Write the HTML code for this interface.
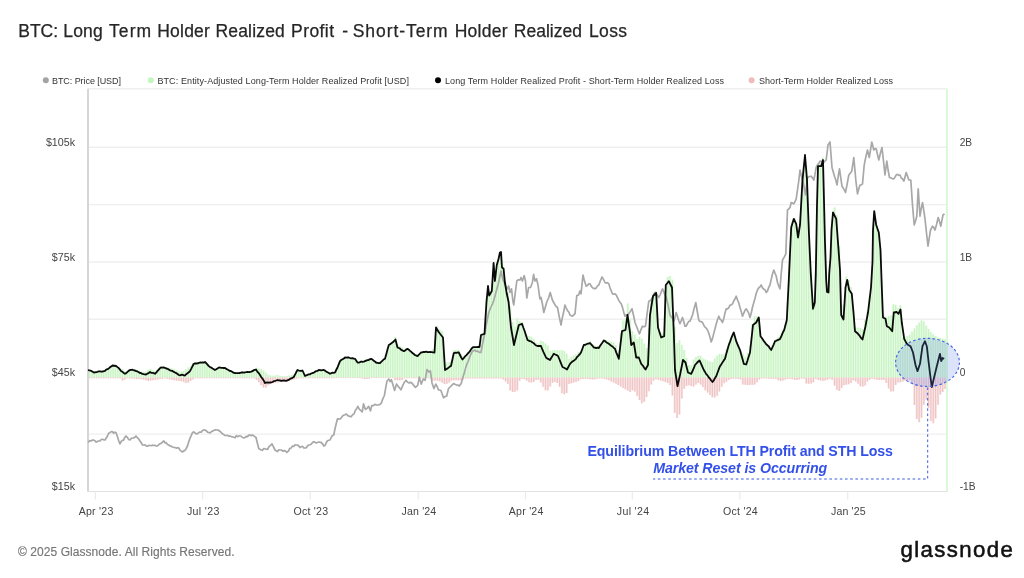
<!DOCTYPE html>
<html lang="en">
<head>
<meta charset="utf-8">
<title>BTC: Long Term Holder Realized Profit - Short-Term Holder Realized Loss</title>
<style>
html,body{margin:0;padding:0;background:#fff;}
body{width:1024px;height:578px;overflow:hidden;position:relative;font-family:"Liberation Sans",Arial,sans-serif;}
svg{position:absolute;left:0;top:0;display:block;filter:blur(0.3px);}
text{font-family:"Liberation Sans",Arial,sans-serif;}
.title{font-size:17.5px;fill:#262626;stroke:#262626;stroke-width:0.25px;}
.legend text{font-size:9px;fill:#333;}
.axis text{fill:#444;}
.xaxis text{font-size:10.6px;fill:#444;}
.ann1{font-size:14.2px;font-weight:bold;fill:#3350e8;}
.ann2{font-size:14.2px;font-weight:bold;font-style:italic;fill:#3350e8;}
.foot{font-size:12px;fill:#767676;stroke:#767676;stroke-width:0.15px;}
.logo{font-size:22.2px;fill:#111;stroke:#111;stroke-width:0.55px;letter-spacing:1.4px;}
</style>
</head>
<body>
<svg width="1024" height="578" viewBox="0 0 1024 578">
<rect width="1024" height="578" fill="#ffffff"/>
<text class="title" y="36.6"><tspan x="18.3" textLength="39.7" lengthAdjust="spacing">BTC:</tspan> <tspan x="63.3" textLength="39.4" lengthAdjust="spacing">Long</tspan> <tspan x="109.0" textLength="42.2" lengthAdjust="spacing">Term</tspan> <tspan x="157.2" textLength="52.7" lengthAdjust="spacing">Holder</tspan> <tspan x="215.5" textLength="69.3" lengthAdjust="spacing">Realized</tspan> <tspan x="291.1" textLength="42.9" lengthAdjust="spacing">Profit</tspan> <tspan x="342.3" textLength="5.9" lengthAdjust="spacing">-</tspan> <tspan x="352.7" textLength="95.0" lengthAdjust="spacing">Short-Term</tspan> <tspan x="454.7" textLength="52.8" lengthAdjust="spacing">Holder</tspan> <tspan x="513.8" textLength="68.2" lengthAdjust="spacing">Realized</tspan> <tspan x="589.0" textLength="38.0" lengthAdjust="spacing">Loss</tspan></text>

<g class="legend">
<circle cx="45.8" cy="80.3" r="3" fill="#a3a3a3"/>
<text x="52" y="83.5" textLength="69" lengthAdjust="spacing">BTC: Price [USD]</text>
<circle cx="150.8" cy="80.3" r="3" fill="#c4f5c0"/>
<text x="157.4" y="83.5" textLength="251.5" lengthAdjust="spacing">BTC: Entity-Adjusted Long-Term Holder Realized Profit [USD]</text>
<circle cx="438" cy="80.3" r="3" fill="#000"/>
<text x="445" y="83.5" textLength="279" lengthAdjust="spacing">Long Term Holder Realized Profit - Short-Term Holder Realized Loss</text>
<circle cx="751.6" cy="80.3" r="3" fill="#efbcbc"/>
<text x="759" y="83.5" textLength="134" lengthAdjust="spacing">Short-Term Holder Realized Loss</text>
</g>

<!-- plot frame -->
<g stroke="#efefef" stroke-width="1.4" fill="none">
<line x1="88" x2="947" y1="88.7" y2="88.7"/>
<line x1="88" x2="947" y1="147.2" y2="147.2"/><line x1="88" x2="947" y1="204.6" y2="204.6"/><line x1="88" x2="947" y1="262.0" y2="262.0"/><line x1="88" x2="947" y1="319.3" y2="319.3"/><line x1="88" x2="947" y1="376.7" y2="376.7"/><line x1="88" x2="947" y1="434.1" y2="434.1"/>
</g>

<!-- bars -->
<defs><path id="gb" d="M89.60 377.4V369.8M91.95 377.4V370.8M94.30 377.4V371.5M96.65 377.4V371.1M99.00 377.4V370.8M101.35 377.4V370.4M103.70 377.4V370.1M106.05 377.4V369.1M108.40 377.4V367.5M110.75 377.4V365.8M113.10 377.4V364.7M115.45 377.4V365.0M117.80 377.4V366.9M120.15 377.4V369.1M122.50 377.4V369.0M124.85 377.4V371.3M127.20 377.4V371.2M129.55 377.4V369.3M131.90 377.4V369.0M134.25 377.4V369.0M136.60 377.4V369.7M138.95 377.4V370.8M141.30 377.4V371.4M143.65 377.4V371.7M146.00 377.4V371.6M148.35 377.4V369.6M150.70 377.4V369.1M153.05 377.4V370.3M155.40 377.4V370.9M157.75 377.4V368.8M160.10 377.4V366.8M162.45 377.4V366.5M164.80 377.4V367.3M167.15 377.4V367.3M169.50 377.4V367.8M171.85 377.4V368.4M174.20 377.4V369.3M176.55 377.4V370.4M178.90 377.4V371.5M181.25 377.4V371.4M183.60 377.4V371.1M185.95 377.4V369.2M188.30 377.4V367.5M190.65 377.4V366.5M193.00 377.4V363.3M195.35 377.4V362.5M197.70 377.4V362.1M200.05 377.4V361.6M202.40 377.4V361.4M204.75 377.4V361.1M207.10 377.4V363.2M209.45 377.4V365.5M211.80 377.4V367.2M214.15 377.4V368.6M216.50 377.4V368.4M218.85 377.4V367.2M221.20 377.4V366.7M223.55 377.4V367.0M225.90 377.4V367.6M228.25 377.4V369.0M230.60 377.4V370.3M232.95 377.4V371.3M235.30 377.4V372.1M237.65 377.4V371.9M240.00 377.4V371.8M242.35 377.4V371.6M244.70 377.4V371.5M247.05 377.4V371.3M249.40 377.4V371.1M251.75 377.4V370.4M254.10 377.4V369.4M256.45 377.4V367.7M258.80 377.4V368.6M261.15 377.4V369.0M263.50 377.4V370.6M265.85 377.4V372.8M268.20 377.4V374.8M270.55 377.4V375.6M272.90 377.4V375.7M275.25 377.4V375.4M277.60 377.4V375.1M279.95 377.4V375.7M282.30 377.4V376.1M284.65 377.4V376.4M287.00 377.4V376.2M289.35 377.4V375.5M291.70 377.4V375.1M294.05 377.4V374.3M296.40 377.4V370.6M298.75 377.4V369.2M301.10 377.4V369.5M303.45 377.4V371.7M305.80 377.4V374.8M308.15 377.4V373.8M310.50 377.4V372.9M312.85 377.4V371.9M315.20 377.4V370.8M317.55 377.4V369.7M319.90 377.4V369.1M322.25 377.4V369.1M324.60 377.4V369.6M326.95 377.4V371.0M329.30 377.4V372.4M331.65 377.4V372.5M334.00 377.4V372.0M336.35 377.4V368.8M338.70 377.4V363.5M341.05 377.4V359.9M343.40 377.4V358.1M345.75 377.4V357.0M348.10 377.4V357.2M350.45 377.4V357.5M352.80 377.4V357.8M355.15 377.4V358.4M357.50 377.4V361.9M359.85 377.4V361.5M362.20 377.4V360.6M364.55 377.4V359.8M366.90 377.4V359.0M369.25 377.4V358.1M371.60 377.4V358.6M373.95 377.4V360.4M376.30 377.4V361.9M378.65 377.4V362.2M381.00 377.4V361.6M383.35 377.4V359.6M385.70 377.4V355.6M388.05 377.4V347.0M390.40 377.4V343.1M392.75 377.4V341.1M395.10 377.4V337.0M397.45 377.4V344.5M399.80 377.4V346.1M402.15 377.4V347.6M404.50 377.4V350.0M406.85 377.4V348.4M409.20 377.4V349.4M411.55 377.4V351.4M413.90 377.4V353.1M416.25 377.4V354.6M418.60 377.4V354.3M420.95 377.4V351.8M423.30 377.4V351.6M425.65 377.4V351.4M428.00 377.4V351.3M430.35 377.4V350.9M432.70 377.4V349.2M435.05 377.4V339.9M437.40 377.4V326.3M439.75 377.4V329.5M442.10 377.4V331.1M444.45 377.4V354.4M446.80 377.4V362.4M449.15 377.4V362.2M451.50 377.4V360.7M453.85 377.4V350.2M456.20 377.4V350.0M458.55 377.4V349.7M460.90 377.4V353.7M463.25 377.4V356.5M465.60 377.4V355.1M467.95 377.4V352.4M470.30 377.4V349.4M472.65 377.4V346.5M475.00 377.4V346.3M477.35 377.4V346.2M479.70 377.4V344.4M482.05 377.4V333.6M484.40 377.4V332.8M486.75 377.4V298.3M489.10 377.4V293.4M491.45 377.4V290.6M493.80 377.4V264.8M496.15 377.4V269.2M498.50 377.4V258.1M500.85 377.4V251.1M503.20 377.4V266.4M505.55 377.4V282.4M507.90 377.4V292.4M510.25 377.4V306.4M512.60 377.4V322.2M514.95 377.4V326.7M517.30 377.4V318.0M519.65 377.4V321.3M522.00 377.4V322.2M524.35 377.4V328.8M526.70 377.4V334.6M529.05 377.4V336.0M531.40 377.4V336.8M533.75 377.4V338.9M536.10 377.4V342.4M538.45 377.4V343.6M540.80 377.4V340.8M543.15 377.4V341.6M545.50 377.4V343.4M547.85 377.4V345.6M550.20 377.4V350.7M552.55 377.4V350.5M554.90 377.4V349.9M557.25 377.4V350.1M559.60 377.4V350.5M561.95 377.4V349.9M564.30 377.4V351.1M566.65 377.4V353.7M569.00 377.4V359.1M571.35 377.4V356.8M573.70 377.4V355.6M576.05 377.4V354.2M578.40 377.4V352.2M580.75 377.4V351.0M583.10 377.4V345.2M585.45 377.4V343.1M587.80 377.4V342.2M590.15 377.4V341.3M592.50 377.4V343.9M594.85 377.4V345.8M597.20 377.4V346.4M599.55 377.4V345.7M601.90 377.4V342.1M604.25 377.4V339.4M606.60 377.4V340.3M608.95 377.4V341.0M611.30 377.4V341.8M613.65 377.4V342.5M616.00 377.4V345.1M618.35 377.4V350.0M620.70 377.4V333.2M623.05 377.4V320.4M625.40 377.4V318.2M627.75 377.4V303.5M630.10 377.4V318.8M632.45 377.4V330.9M634.80 377.4V334.7M637.15 377.4V338.9M639.50 377.4V336.8M641.85 377.4V338.7M644.20 377.4V343.4M646.55 377.4V348.1M648.90 377.4V328.6M651.25 377.4V300.0M653.60 377.4V292.5M655.95 377.4V291.5M658.30 377.4V326.0M660.65 377.4V332.6M663.00 377.4V333.0M665.35 377.4V294.2M667.70 377.4V277.0M670.05 377.4V276.1M672.40 377.4V279.8M674.75 377.4V326.9M677.10 377.4V343.0M679.45 377.4V340.2M681.80 377.4V344.9M684.15 377.4V349.9M686.50 377.4V357.9M688.85 377.4V364.9M691.20 377.4V365.3M693.55 377.4V359.4M695.90 377.4V356.9M698.25 377.4V356.1M700.60 377.4V355.7M702.95 377.4V358.5M705.30 377.4V359.5M707.65 377.4V360.6M710.00 377.4V361.4M712.35 377.4V361.9M714.70 377.4V358.6M717.05 377.4V355.7M719.40 377.4V353.9M721.75 377.4V354.3M724.10 377.4V354.2M726.45 377.4V349.1M728.80 377.4V342.4M731.15 377.4V337.5M733.50 377.4V331.7M735.85 377.4V338.5M738.20 377.4V344.3M740.55 377.4V349.9M742.90 377.4V353.4M745.25 377.4V356.8M747.60 377.4V352.7M749.95 377.4V345.1M752.30 377.4V324.0M754.65 377.4V316.5M757.00 377.4V316.2M759.35 377.4V321.9M761.70 377.4V337.0M764.05 377.4V340.1M766.40 377.4V343.0M768.75 377.4V345.7M771.10 377.4V348.5M773.45 377.4V343.6M775.80 377.4V339.5M778.15 377.4V336.9M780.50 377.4V334.4M782.85 377.4V329.8M785.20 377.4V324.1M787.55 377.4V302.4M789.90 377.4V254.5M792.25 377.4V222.1M794.60 377.4V217.9M796.95 377.4V226.7M799.30 377.4V227.3M801.65 377.4V194.3M804.00 377.4V163.6M806.35 377.4V165.8M808.70 377.4V222.1M811.05 377.4V272.6M813.40 377.4V302.4M815.75 377.4V272.5M818.10 377.4V163.8M820.45 377.4V163.3M822.80 377.4V157.4M825.15 377.4V243.9M827.50 377.4V289.7M829.85 377.4V264.5M832.20 377.4V219.5M834.55 377.4V207.4M836.90 377.4V215.2M839.25 377.4V246.0M841.60 377.4V305.1M843.95 377.4V304.5M846.30 377.4V276.6M848.65 377.4V280.1M851.00 377.4V286.9M853.35 377.4V308.0M855.70 377.4V327.7M858.05 377.4V327.4M860.40 377.4V328.0M862.75 377.4V329.3M865.10 377.4V320.1M867.45 377.4V311.5M869.80 377.4V295.2M872.15 377.4V266.5M874.50 377.4V211.1M876.85 377.4V224.5M879.20 377.4V234.5M881.55 377.4V279.0M883.90 377.4V315.4M886.25 377.4V317.6M888.60 377.4V316.1M890.95 377.4V315.4M893.30 377.4V304.2M895.65 377.4V304.7M898.00 377.4V308.2M900.35 377.4V305.1M902.70 377.4V337.8M905.05 377.4V337.2M907.40 377.4V336.1M909.75 377.4V334.7M912.10 377.4V331.6M914.45 377.4V328.4M916.80 377.4V325.2M919.15 377.4V322.4M921.50 377.4V320.4M923.85 377.4V321.6M926.20 377.4V325.8M928.55 377.4V329.0M930.90 377.4V331.9M933.25 377.4V334.2M935.60 377.4V336.0M937.95 377.4V337.5M940.30 377.4V338.1M942.65 377.4V338.7M945.00 377.4V339.2"/><path id="rb" d="M89.60 377.4V378.3M91.95 377.4V378.3M94.30 377.4V378.3M96.65 377.4V378.3M99.00 377.4V378.3M101.35 377.4V378.3M103.70 377.4V378.3M106.05 377.4V378.3M108.40 377.4V378.3M110.75 377.4V378.3M113.10 377.4V378.3M115.45 377.4V378.3M117.80 377.4V378.3M120.15 377.4V378.4M122.50 377.4V380.5M124.85 377.4V379.7M127.20 377.4V378.3M129.55 377.4V378.5M131.90 377.4V378.6M134.25 377.4V378.8M136.60 377.4V379.0M138.95 377.4V379.1M141.30 377.4V379.3M143.65 377.4V379.6M146.00 377.4V380.3M148.35 377.4V380.9M150.70 377.4V380.5M153.05 377.4V380.2M155.40 377.4V379.8M157.75 377.4V379.5M160.10 377.4V379.1M162.45 377.4V378.7M164.80 377.4V378.3M167.15 377.4V378.8M169.50 377.4V379.2M171.85 377.4V379.7M174.20 377.4V380.2M176.55 377.4V380.6M178.90 377.4V380.9M181.25 377.4V381.2M183.60 377.4V381.7M185.95 377.4V382.9M188.30 377.4V382.4M190.65 377.4V380.7M193.00 377.4V379.4M195.35 377.4V378.3M197.70 377.4V378.3M200.05 377.4V378.3M202.40 377.4V378.3M204.75 377.4V378.3M207.10 377.4V378.3M209.45 377.4V378.3M211.80 377.4V378.3M214.15 377.4V378.3M216.50 377.4V378.3M218.85 377.4V378.3M221.20 377.4V378.3M223.55 377.4V378.3M225.90 377.4V378.3M228.25 377.4V378.3M230.60 377.4V378.3M232.95 377.4V378.3M235.30 377.4V378.3M237.65 377.4V378.3M240.00 377.4V378.3M242.35 377.4V378.3M244.70 377.4V378.3M247.05 377.4V378.3M249.40 377.4V378.3M251.75 377.4V378.3M254.10 377.4V378.3M256.45 377.4V379.8M258.80 377.4V382.2M261.15 377.4V385.3M263.50 377.4V387.4M265.85 377.4V387.6M268.20 377.4V385.3M270.55 377.4V384.1M272.90 377.4V383.2M275.25 377.4V382.8M277.60 377.4V382.4M279.95 377.4V381.9M282.30 377.4V381.8M284.65 377.4V381.6M287.00 377.4V381.5M289.35 377.4V381.0M291.70 377.4V380.3M294.05 377.4V379.6M296.40 377.4V378.8M298.75 377.4V378.3M301.10 377.4V378.3M303.45 377.4V378.3M305.80 377.4V378.3M308.15 377.4V378.3M310.50 377.4V378.3M312.85 377.4V378.3M315.20 377.4V378.3M317.55 377.4V378.3M319.90 377.4V378.3M322.25 377.4V378.3M324.60 377.4V378.3M326.95 377.4V378.3M329.30 377.4V378.3M331.65 377.4V378.3M334.00 377.4V378.2M336.35 377.4V378.1M338.70 377.4V378.0M341.05 377.4V378.0M343.40 377.4V378.0M345.75 377.4V378.0M348.10 377.4V378.0M350.45 377.4V378.0M352.80 377.4V378.0M355.15 377.4V378.0M357.50 377.4V378.0M359.85 377.4V378.0M362.20 377.4V378.5M364.55 377.4V378.9M366.90 377.4V378.9M369.25 377.4V378.8M371.60 377.4V378.0M373.95 377.4V378.0M376.30 377.4V378.0M378.65 377.4V378.0M381.00 377.4V378.0M383.35 377.4V378.0M385.70 377.4V378.0M388.05 377.4V378.0M390.40 377.4V378.0M392.75 377.4V378.0M395.10 377.4V380.2M397.45 377.4V380.2M399.80 377.4V380.2M402.15 377.4V380.1M404.50 377.4V378.2M406.85 377.4V378.2M409.20 377.4V378.2M411.55 377.4V378.2M413.90 377.4V378.2M416.25 377.4V378.2M418.60 377.4V378.2M420.95 377.4V378.2M423.30 377.4V378.2M425.65 377.4V378.2M428.00 377.4V378.2M430.35 377.4V378.5M432.70 377.4V380.5M435.05 377.4V380.8M437.40 377.4V380.8M439.75 377.4V381.3M442.10 377.4V382.7M444.45 377.4V384.0M446.80 377.4V383.8M449.15 377.4V382.4M451.50 377.4V380.4M453.85 377.4V380.2M456.20 377.4V380.2M458.55 377.4V380.2M460.90 377.4V380.2M463.25 377.4V379.5M465.60 377.4V378.4M467.95 377.4V378.4M470.30 377.4V378.4M472.65 377.4V378.4M475.00 377.4V378.4M477.35 377.4V378.4M479.70 377.4V378.4M482.05 377.4V378.4M484.40 377.4V378.4M486.75 377.4V378.4M489.10 377.4V378.4M491.45 377.4V378.4M493.80 377.4V378.4M496.15 377.4V378.4M498.50 377.4V378.4M500.85 377.4V378.4M503.20 377.4V379.4M505.55 377.4V381.5M507.90 377.4V383.9M510.25 377.4V390.6M512.60 377.4V392.0M514.95 377.4V391.7M517.30 377.4V390.6M519.65 377.4V380.8M522.00 377.4V378.9M524.35 377.4V379.3M526.70 377.4V380.4M529.05 377.4V382.2M531.40 377.4V382.6M533.75 377.4V381.9M536.10 377.4V380.1M538.45 377.4V379.8M540.80 377.4V382.6M543.15 377.4V386.7M545.50 377.4V390.3M547.85 377.4V390.4M550.20 377.4V386.4M552.55 377.4V382.7M554.90 377.4V381.9M557.25 377.4V382.9M559.60 377.4V386.8M561.95 377.4V393.2M564.30 377.4V394.3M566.65 377.4V393.1M569.00 377.4V384.0M571.35 377.4V383.2M573.70 377.4V382.5M576.05 377.4V381.9M578.40 377.4V381.0M580.75 377.4V379.2M583.10 377.4V379.0M585.45 377.4V378.8M587.80 377.4V378.9M590.15 377.4V379.3M592.50 377.4V379.5M594.85 377.4V379.2M597.20 377.4V378.8M599.55 377.4V378.5M601.90 377.4V378.6M604.25 377.4V378.8M606.60 377.4V379.5M608.95 377.4V380.3M611.30 377.4V381.4M613.65 377.4V382.6M616.00 377.4V383.7M618.35 377.4V385.1M620.70 377.4V386.5M623.05 377.4V387.9M625.40 377.4V389.3M627.75 377.4V390.7M630.10 377.4V392.1M632.45 377.4V390.3M634.80 377.4V391.5M637.15 377.4V396.0M639.50 377.4V399.9M641.85 377.4V403.3M644.20 377.4V401.7M646.55 377.4V396.9M648.90 377.4V391.3M651.25 377.4V384.5M653.60 377.4V380.6M655.95 377.4V379.2M658.30 377.4V379.8M660.65 377.4V380.5M663.00 377.4V381.2M665.35 377.4V381.9M667.70 377.4V382.9M670.05 377.4V385.1M672.40 377.4V395.4M674.75 377.4V413.0M677.10 377.4V418.1M679.45 377.4V414.6M681.80 377.4V398.5M684.15 377.4V388.7M686.50 377.4V386.0M688.85 377.4V385.3M691.20 377.4V385.9M693.55 377.4V386.4M695.90 377.4V384.6M698.25 377.4V383.0M700.60 377.4V384.6M702.95 377.4V387.1M705.30 377.4V390.3M707.65 377.4V392.6M710.00 377.4V395.0M712.35 377.4V397.3M714.70 377.4V397.4M717.05 377.4V395.8M719.40 377.4V391.4M721.75 377.4V386.7M724.10 377.4V383.3M726.45 377.4V381.8M728.80 377.4V379.9M731.15 377.4V378.9M733.50 377.4V378.8M735.85 377.4V378.7M738.20 377.4V378.9M740.55 377.4V379.5M742.90 377.4V384.6M745.25 377.4V384.8M747.60 377.4V384.9M749.95 377.4V384.9M752.30 377.4V384.8M754.65 377.4V384.6M757.00 377.4V382.2M759.35 377.4V379.4M761.70 377.4V378.4M764.05 377.4V378.5M766.40 377.4V378.6M768.75 377.4V378.7M771.10 377.4V378.7M773.45 377.4V378.7M775.80 377.4V378.8M778.15 377.4V380.3M780.50 377.4V381.0M782.85 377.4V380.6M785.20 377.4V379.5M787.55 377.4V379.0M789.90 377.4V378.8M792.25 377.4V379.3M794.60 377.4V379.9M796.95 377.4V379.9M799.30 377.4V379.4M801.65 377.4V378.4M804.00 377.4V378.8M806.35 377.4V383.5M808.70 377.4V383.8M811.05 377.4V383.5M813.40 377.4V382.3M815.75 377.4V378.9M818.10 377.4V379.9M820.45 377.4V380.4M822.80 377.4V380.7M825.15 377.4V380.5M827.50 377.4V379.8M829.85 377.4V379.0M832.20 377.4V379.7M834.55 377.4V385.5M836.90 377.4V389.8M839.25 377.4V391.1M841.60 377.4V388.0M843.95 377.4V385.2M846.30 377.4V384.8M848.65 377.4V384.3M851.00 377.4V383.1M853.35 377.4V380.3M855.70 377.4V381.5M858.05 377.4V383.8M860.40 377.4V386.2M862.75 377.4V386.5M865.10 377.4V385.4M867.45 377.4V381.4M869.80 377.4V379.7M872.15 377.4V378.8M874.50 377.4V379.3M876.85 377.4V379.7M879.20 377.4V379.9M881.55 377.4V379.9M883.90 377.4V379.9M886.25 377.4V383.1M888.60 377.4V388.4M890.95 377.4V391.6M893.30 377.4V391.3M895.65 377.4V384.9M898.00 377.4V382.5M900.35 377.4V382.2M902.70 377.4V381.4M905.05 377.4V380.5M907.40 377.4V380.2M909.75 377.4V380.3M912.10 377.4V383.8M914.45 377.4V405.0M916.80 377.4V419.0M919.15 377.4V422.3M921.50 377.4V417.7M923.85 377.4V404.7M926.20 377.4V399.8M928.55 377.4V407.8M930.90 377.4V421.0M933.25 377.4V423.3M935.60 377.4V418.6M937.95 377.4V404.8M940.30 377.4V394.6M942.65 377.4V392.0M945.00 377.4V388.9"/></defs>
<use href="#gb" stroke="#e7fbe4" stroke-width="2.5" fill="none"/>
<use href="#rb" stroke="#fae9e9" stroke-width="2.5" fill="none"/>
<use href="#gb" stroke="#c9f4c4" stroke-width="1.25" fill="none"/>
<use href="#rb" stroke="#efc4c4" stroke-width="1.25" fill="none"/>
<line x1="947" x2="947" y1="88.7" y2="491.5" stroke="#d9f9d5" stroke-width="1.9"/>

<!-- axes -->
<line x1="88" x2="88" y1="88.7" y2="492.0" stroke="#d6d6d6" stroke-width="2"/>
<line x1="87" x2="947.5" y1="491.5" y2="491.5" stroke="#e2e2e2" stroke-width="1.2"/>
<g stroke="#ebebeb" stroke-width="1.2"><line x1="95.4" x2="95.4" y1="491.5" y2="499.5"/><line x1="202.6" x2="202.6" y1="491.5" y2="499.5"/><line x1="310.2" x2="310.2" y1="491.5" y2="499.5"/><line x1="418.3" x2="418.3" y1="491.5" y2="499.5"/><line x1="525.5" x2="525.5" y1="491.5" y2="499.5"/><line x1="632.3" x2="632.3" y1="491.5" y2="499.5"/><line x1="739.8" x2="739.8" y1="491.5" y2="499.5"/><line x1="847.7" x2="847.7" y1="491.5" y2="499.5"/></g>

<!-- price -->
<path d="M88.0 442.5 L89.5 440.7 L91.0 441.0 L92.5 440.0 L93.8 440.1 L95.0 440.9 L96.2 442.1 L97.5 441.4 L98.8 441.0 L100.0 440.8 L101.2 439.5 L102.5 439.3 L103.8 439.8 L105.0 440.0 L106.2 438.0 L107.5 436.0 L108.8 433.0 L110.0 432.7 L111.2 431.6 L112.4 431.6 L113.6 433.1 L114.8 432.2 L116.0 432.5 L117.3 436.2 L118.7 440.8 L120.0 443.8 L121.2 441.3 L122.4 440.3 L123.6 440.1 L124.8 437.4 L126.0 436.0 L127.3 437.4 L128.7 439.5 L130.0 440.0 L131.2 438.5 L132.4 438.0 L133.6 438.0 L134.8 437.3 L136.0 436.0 L137.3 437.7 L138.6 438.8 L139.9 441.0 L141.2 442.8 L142.5 445.0 L143.8 445.0 L145.0 444.8 L146.2 445.9 L147.5 446.3 L148.8 445.4 L150.0 445.5 L151.2 445.7 L152.5 445.2 L153.8 445.4 L155.0 445.3 L156.2 446.0 L157.5 446.0 L158.8 444.7 L160.0 443.7 L161.2 443.4 L162.5 442.0 L163.8 441.0 L165.0 442.8 L166.2 442.7 L167.5 444.5 L168.8 445.0 L170.0 446.0 L171.2 446.2 L172.5 447.0 L173.8 447.3 L175.0 447.5 L176.2 448.1 L177.5 447.7 L178.8 448.0 L180.0 450.2 L181.2 451.2 L182.5 452.0 L183.8 450.9 L185.0 450.4 L186.2 448.5 L187.5 446.0 L188.8 441.6 L190.0 438.2 L191.2 435.6 L192.5 432.5 L193.8 431.9 L195.0 433.1 L196.2 433.8 L197.5 433.7 L198.8 432.6 L200.0 432.0 L201.2 432.2 L202.5 430.5 L203.8 429.9 L205.0 430.0 L206.2 430.7 L207.5 432.1 L208.8 432.5 L210.0 433.0 L211.4 431.7 L212.8 430.9 L214.2 430.3 L215.6 429.9 L217.0 430.0 L218.4 430.2 L219.8 431.2 L221.1 432.4 L222.5 433.8 L223.8 434.6 L225.0 435.5 L226.2 435.5 L227.5 435.4 L228.8 436.2 L230.0 436.0 L231.2 436.6 L232.5 436.8 L233.8 437.2 L235.0 437.8 L236.2 435.7 L237.5 436.7 L238.8 435.9 L240.0 436.0 L241.2 436.3 L242.5 437.5 L243.8 437.9 L245.0 437.5 L246.2 436.4 L247.5 436.6 L248.8 435.1 L250.0 435.0 L251.2 435.7 L252.5 435.0 L254.2 436.1 L256.0 437.5 L257.4 443.3 L258.8 448.8 L260.0 449.2 L261.2 450.0 L262.5 450.3 L263.8 448.5 L265.0 448.8 L266.2 449.2 L267.5 449.5 L269.0 446.6 L270.5 445.3 L272.0 443.8 L273.5 447.0 L275.0 450.0 L276.2 450.7 L277.5 451.6 L278.8 449.8 L280.0 450.0 L281.4 450.0 L282.8 451.1 L284.2 450.6 L285.6 451.1 L287.0 452.5 L288.4 451.0 L289.8 448.5 L291.1 447.9 L292.5 446.0 L293.8 446.5 L295.0 444.8 L296.2 445.0 L297.5 445.0 L298.8 446.0 L300.0 447.5 L301.2 446.7 L302.5 446.3 L303.8 447.9 L305.0 448.0 L306.2 447.8 L307.5 445.9 L308.8 445.0 L310.0 444.7 L311.2 444.2 L312.5 442.5 L313.8 441.7 L315.0 442.3 L316.2 443.0 L317.5 442.5 L318.8 442.0 L320.0 442.3 L321.2 442.4 L322.5 443.8 L323.8 446.0 L325.0 445.4 L326.2 442.8 L327.5 440.8 L328.8 440.3 L330.0 440.0 L331.2 437.5 L332.5 435.6 L333.8 435.0 L335.0 428.7 L336.2 423.8 L337.5 418.8 L338.8 419.1 L340.0 419.0 L341.3 417.9 L342.5 416.0 L343.8 415.1 L345.0 414.8 L346.3 414.0 L348.2 415.9 L349.7 416.4 L351.1 416.8 L352.6 414.7 L354.0 414.0 L355.3 410.5 L356.5 409.0 L357.8 406.3 L359.3 409.1 L360.7 410.5 L362.2 412.0 L363.5 403.8 L365.4 409.5 L367.0 408.4 L368.6 406.3 L370.5 410.8 L371.7 405.7 L373.3 405.7 L374.9 404.4 L376.4 404.9 L378.0 405.0 L379.6 404.7 L381.3 403.2 L382.9 398.6 L384.4 395.5 L385.7 387.9 L387.0 381.0 L388.9 379.0 L390.1 381.6 L391.4 379.7 L393.3 386.0 L394.6 390.5 L396.5 384.1 L398.4 386.7 L399.6 388.0 L400.9 389.8 L402.8 385.4 L404.4 382.2 L406.0 380.3 L407.6 382.3 L409.2 382.9 L410.8 382.4 L412.4 383.5 L413.9 385.7 L415.5 387.3 L417.7 385.4 L419.3 377.1 L421.2 384.1 L423.2 379.0 L425.1 380.3 L427.0 369.5 L428.9 372.1 L430.4 370.8 L432.0 382.9 L433.9 388.6 L435.8 384.1 L437.1 386.4 L438.4 389.8 L439.6 390.0 L440.9 390.5 L442.2 394.0 L443.5 397.8 L445.1 396.5 L446.6 396.2 L448.5 388.6 L450.1 387.0 L451.7 385.4 L453.6 383.5 L454.9 384.2 L456.2 384.8 L457.8 385.1 L459.3 386.0 L461.2 383.5 L463.1 376.5 L464.4 372.4 L465.7 367.6 L466.9 364.0 L468.2 361.3 L469.6 357.2 L471.1 353.8 L472.5 351.0 L473.8 350.7 L475.0 350.1 L476.2 351.5 L477.5 351.0 L479.2 352.3 L481.0 352.5 L482.3 345.1 L483.7 338.5 L485.0 332.5 L486.2 325.3 L487.5 318.8 L488.8 312.5 L490.0 309.2 L491.2 306.5 L492.5 303.8 L493.8 300.4 L495.0 296.0 L496.5 290.3 L498.0 285.0 L499.5 278.2 L501.0 271.0 L503.0 280.0 L504.5 283.1 L505.9 286.5 L507.4 288.8 L508.6 286.0 L510.0 292.5 L511.5 288.8 L513.0 302.0 L513.8 305.0 L515.0 295.0 L516.8 281.0 L518.4 279.8 L520.0 280.0 L521.0 277.5 L522.4 281.0 L524.2 275.6 L525.5 281.0 L526.8 298.0 L528.6 287.5 L530.5 287.5 L532.4 282.5 L533.6 274.4 L534.9 281.0 L536.5 278.8 L538.0 285.0 L539.9 298.8 L541.0 297.5 L542.4 303.8 L543.8 312.5 L545.2 307.6 L546.8 302.0 L548.6 298.0 L550.2 292.5 L552.4 300.0 L554.0 303.0 L555.8 306.1 L557.5 307.5 L559.2 316.4 L561.0 325.0 L562.3 317.9 L563.7 311.8 L565.0 305.0 L566.2 308.0 L567.5 310.7 L568.8 312.0 L570.0 315.0 L571.2 315.7 L572.5 316.2 L573.8 314.7 L575.0 313.8 L576.8 295.6 L578.6 295.0 L579.9 291.0 L581.0 293.8 L583.0 275.0 L584.2 280.0 L586.2 286.2 L587.5 285.6 L588.8 283.8 L590.0 283.8 L591.2 286.1 L592.5 287.7 L593.8 288.4 L595.0 288.8 L596.2 288.0 L597.5 285.9 L598.8 285.0 L600.4 280.7 L602.0 277.0 L603.5 279.4 L605.0 282.5 L606.2 283.1 L607.5 282.7 L608.8 283.8 L610.0 287.8 L611.2 290.7 L612.5 293.8 L613.8 294.1 L615.0 293.8 L616.2 295.0 L617.5 297.6 L618.8 300.4 L620.0 302.3 L621.2 303.8 L622.5 307.4 L623.8 312.4 L625.0 316.2 L626.2 314.8 L627.5 314.9 L628.8 313.8 L630.4 311.4 L632.0 308.8 L633.5 315.3 L635.0 322.5 L636.5 326.3 L638.0 330.3 L639.5 333.8 L641.0 329.6 L642.5 326.2 L644.0 326.8 L645.5 326.2 L647.1 313.6 L648.8 301.2 L650.0 300.7 L651.2 299.7 L652.5 297.5 L653.8 294.5 L655.0 292.5 L656.2 294.4 L657.5 295.6 L658.8 297.5 L660.0 295.0 L661.2 292.0 L662.5 288.8 L663.8 291.6 L665.0 295.3 L666.2 297.5 L667.5 302.5 L668.8 308.9 L670.0 315.0 L671.2 316.8 L672.5 318.2 L673.8 321.2 L675.0 317.2 L676.2 312.5 L677.5 316.4 L678.8 320.8 L680.0 323.8 L681.2 320.8 L682.5 317.5 L683.8 321.7 L685.0 326.2 L686.2 326.1 L687.5 323.4 L688.8 321.4 L690.0 321.2 L691.2 318.4 L692.5 315.0 L694.1 308.5 L695.8 302.5 L697.2 311.0 L698.8 320.0 L700.0 321.5 L701.2 321.7 L702.5 322.5 L703.8 325.2 L705.0 327.1 L706.2 328.1 L707.5 330.0 L708.8 333.2 L710.0 337.1 L711.2 342.0 L712.5 338.4 L713.8 333.4 L715.0 328.8 L716.2 324.0 L717.5 319.7 L718.8 316.2 L720.0 319.1 L721.2 320.2 L722.5 322.5 L723.8 318.4 L725.0 312.9 L726.2 308.8 L727.5 308.8 L728.8 307.6 L730.0 305.2 L731.2 305.0 L732.5 303.8 L733.8 300.8 L735.0 299.0 L736.2 296.2 L737.5 300.0 L738.8 303.0 L740.0 307.5 L741.2 311.4 L742.5 316.2 L743.8 313.1 L745.0 310.3 L746.2 308.8 L747.5 310.9 L748.8 313.4 L750.0 317.5 L751.2 313.3 L752.5 307.2 L753.8 302.5 L755.0 298.3 L756.2 293.5 L757.5 290.0 L758.8 287.8 L760.0 286.9 L761.2 285.0 L762.5 287.8 L763.8 289.2 L765.0 289.8 L766.2 292.5 L767.5 290.9 L768.8 287.1 L770.0 285.0 L771.2 279.4 L772.5 274.0 L773.8 270.0 L775.0 273.1 L776.2 276.0 L777.5 282.5 L778.8 286.1 L780.0 288.8 L781.2 274.0 L782.5 260.0 L784.1 257.4 L785.8 253.8 L787.5 210.0 L788.8 208.9 L790.0 207.5 L791.2 202.5 L792.5 203.0 L793.8 203.8 L795.0 201.7 L796.2 198.8 L797.5 189.8 L798.8 180.6 L800.0 170.0 L801.2 175.3 L802.5 180.0 L804.0 186.9 L805.5 195.0 L807.5 177.5 L808.8 176.7 L810.0 176.5 L811.2 176.2 L812.5 178.1 L813.8 180.0 L815.0 174.2 L816.2 167.5 L817.5 164.9 L818.8 163.4 L820.0 161.2 L821.2 161.4 L822.5 162.5 L823.8 162.5 L825.0 160.9 L826.2 160.0 L828.0 145.0 L830.0 142.0 L832.0 167.5 L833.2 171.8 L834.5 176.2 L835.8 180.1 L837.0 185.0 L838.2 176.5 L839.5 168.8 L840.8 178.1 L842.0 186.2 L843.8 189.0 L845.5 192.5 L847.1 184.4 L848.8 175.0 L850.2 173.2 L851.8 171.2 L853.8 157.5 L855.8 180.0 L857.5 193.8 L858.8 188.8 L860.0 185.0 L861.2 184.8 L862.5 183.8 L864.2 165.0 L865.9 156.7 L867.5 150.0 L869.2 157.5 L870.5 150.2 L871.8 142.0 L873.8 150.0 L875.0 148.7 L876.2 148.8 L877.5 154.6 L878.8 160.0 L880.4 153.2 L882.0 147.5 L883.5 161.0 L885.0 175.0 L886.8 161.2 L888.1 170.0 L889.5 177.5 L890.9 177.9 L892.3 178.6 L893.8 178.8 L895.0 177.2 L896.2 175.0 L897.5 174.3 L898.8 175.3 L900.0 175.0 L901.2 177.8 L902.5 178.9 L903.8 181.2 L905.0 176.9 L906.2 172.5 L907.5 176.0 L908.8 180.0 L910.8 180.0 L912.5 205.0 L914.2 225.0 L915.5 220.9 L916.8 216.2 L918.2 188.8 L920.0 216.2 L921.2 208.8 L922.5 202.5 L923.8 210.6 L925.0 218.8 L926.5 233.0 L928.0 246.2 L929.2 238.4 L930.5 230.0 L932.5 226.2 L933.8 227.6 L935.0 230.0 L936.6 224.3 L938.2 217.5 L939.5 221.5 L940.8 226.2 L943.0 215.0 L944.5 213.8" stroke="#a8a8a8" stroke-width="1.7" fill="none" stroke-linejoin="round" stroke-linecap="butt"/>
<!-- net line -->
<path d="M88.0 370.0 L89.4 370.4 L90.9 370.7 L92.3 371.6 L93.8 372.5 L95.0 372.4 L96.2 372.1 L97.5 371.9 L98.8 371.3 L100.0 371.3 L101.2 371.6 L102.5 371.5 L103.8 371.2 L105.0 370.8 L106.2 369.6 L107.5 369.2 L108.8 368.5 L110.0 367.2 L111.2 366.4 L112.5 365.5 L116.0 366.0 L117.2 366.9 L118.5 367.9 L119.8 369.4 L121.0 371.0 L122.3 371.7 L123.7 372.9 L125.0 373.8 L126.2 373.1 L127.5 371.9 L128.8 370.8 L130.0 370.0 L131.2 369.8 L132.5 369.7 L133.8 370.3 L135.0 370.5 L136.2 371.2 L137.5 371.4 L138.8 372.2 L140.0 373.0 L141.2 373.2 L142.4 373.9 L143.6 374.2 L144.8 374.4 L146.0 374.5 L147.3 373.7 L148.7 373.2 L150.0 372.0 L151.2 372.8 L152.5 372.9 L153.8 373.1 L155.0 373.8 L156.2 372.7 L157.4 371.0 L158.6 369.8 L159.8 368.4 L161.0 367.5 L162.3 367.6 L163.6 367.5 L164.9 367.8 L166.2 368.5 L167.5 368.8 L168.8 369.6 L170.0 370.3 L171.2 370.7 L172.5 371.0 L173.8 371.9 L175.0 372.5 L176.2 373.1 L177.5 374.0 L178.8 375.0 L180.0 375.3 L181.2 374.9 L182.5 374.7 L183.8 375.4 L185.0 375.5 L186.2 374.2 L187.5 373.3 L188.8 372.3 L190.0 371.0 L191.2 368.9 L192.5 366.2 L193.8 363.8 L195.0 363.4 L196.2 363.5 L197.5 363.3 L198.8 363.0 L200.0 362.5 L201.2 362.6 L202.5 362.5 L203.8 362.6 L205.0 362.0 L206.2 363.1 L207.5 364.6 L208.8 366.1 L210.0 367.0 L211.2 367.6 L212.5 368.5 L213.8 369.2 L215.0 370.0 L216.2 369.3 L217.5 368.4 L218.8 367.6 L220.0 367.5 L221.2 367.8 L222.5 367.8 L223.8 368.0 L225.0 368.0 L226.2 368.9 L227.5 369.5 L228.8 370.2 L230.0 371.0 L231.2 371.2 L232.5 372.1 L233.8 372.8 L235.0 373.0 L236.2 373.1 L237.5 373.2 L238.8 373.1 L240.0 373.0 L241.2 372.5 L242.5 372.5 L243.8 372.6 L245.0 372.3 L246.2 372.2 L247.5 372.0 L248.8 372.1 L250.0 372.0 L251.2 371.6 L252.4 371.1 L253.6 370.4 L254.8 369.8 L256.0 369.5 L257.3 371.6 L258.7 373.1 L260.0 375.0 L261.2 377.0 L262.5 378.6 L263.8 380.7 L265.0 383.0 L266.2 382.6 L267.5 382.4 L268.8 382.6 L270.0 382.5 L271.2 382.4 L272.5 382.0 L273.8 381.2 L275.0 380.9 L276.2 380.5 L277.5 380.0 L278.7 380.3 L279.9 380.4 L281.1 380.8 L282.4 380.6 L283.6 380.4 L284.8 380.6 L286.0 380.8 L287.3 380.4 L288.6 379.9 L289.9 379.1 L291.2 378.3 L292.5 377.8 L293.8 377.0 L295.0 374.6 L296.2 372.3 L297.5 370.0 L298.8 370.5 L300.0 370.9 L301.2 370.9 L302.5 370.5 L305.0 376.0 L306.2 375.3 L307.5 374.9 L308.8 374.3 L310.0 374.3 L311.2 373.5 L312.5 373.0 L313.8 372.7 L315.0 371.8 L316.2 371.1 L317.5 370.9 L318.8 370.0 L320.0 370.1 L321.2 370.4 L322.5 370.2 L323.8 370.0 L325.0 370.6 L326.2 371.6 L327.5 372.3 L328.8 373.0 L330.0 373.8 L331.2 373.2 L332.5 372.6 L333.8 372.9 L335.0 372.5 L336.2 370.0 L337.5 367.5 L338.8 364.2 L340.0 361.2 L341.2 360.0 L342.5 359.2 L343.8 358.6 L345.0 357.5 L346.2 357.7 L347.5 357.4 L348.8 357.5 L350.0 358.0 L351.2 358.3 L352.5 358.1 L353.8 358.7 L355.0 358.8 L357.5 362.5 L358.8 362.6 L360.0 362.1 L361.2 361.5 L362.5 361.9 L363.8 361.7 L365.0 361.2 L366.2 360.7 L367.4 360.2 L368.6 360.1 L369.8 359.3 L371.0 358.8 L372.2 359.3 L373.5 360.5 L374.8 361.4 L376.0 362.5 L377.3 362.8 L378.7 363.2 L380.0 363.0 L381.2 361.8 L382.5 360.6 L383.8 359.4 L385.0 358.8 L386.2 354.4 L387.5 349.4 L388.8 345.0 L390.1 344.2 L391.4 343.2 L392.8 342.3 L394.1 341.0 L395.5 339.5 L397.5 347.5 L398.8 348.0 L400.0 348.6 L401.2 349.9 L402.5 350.4 L403.8 351.2 L405.0 350.6 L406.2 349.5 L407.5 348.8 L408.8 349.7 L410.0 350.9 L411.2 351.8 L412.5 353.0 L413.8 354.0 L415.0 355.1 L416.2 355.5 L417.5 356.2 L421.0 352.5 L422.3 352.3 L423.6 351.9 L424.9 352.0 L426.1 351.7 L427.4 352.0 L428.7 352.1 L430.0 352.0 L431.5 352.2 L433.0 352.4 L434.5 352.5 L436.0 327.5 L437.3 329.7 L438.7 332.0 L440.0 333.8 L443.0 337.5 L445.0 370.0 L446.2 369.2 L447.4 368.7 L448.6 367.6 L449.8 366.6 L451.0 366.0 L453.8 353.0 L455.0 352.7 L456.2 352.9 L457.5 352.5 L458.8 352.5 L460.0 355.0 L461.2 357.5 L462.5 359.5 L463.8 358.1 L465.0 356.4 L466.2 355.3 L467.5 353.8 L468.8 352.5 L470.0 351.1 L471.2 349.1 L472.5 347.5 L473.9 347.2 L475.3 347.2 L476.7 347.1 L478.1 346.9 L479.5 347.0 L481.0 335.0 L484.5 333.8 L486.5 302.0 L488.0 286.0 L489.2 295.6 L491.8 291.0 L493.6 263.0 L494.9 281.0 L496.8 265.0 L498.6 258.8 L499.9 252.5 L501.0 252.0 L502.0 267.5 L503.6 268.8 L504.9 282.5 L506.8 293.8 L508.6 302.0 L511.0 327.5 L514.0 345.0 L515.6 338.2 L517.2 331.8 L518.8 325.0 L522.0 323.8 L523.4 327.8 L524.8 331.5 L526.1 335.7 L527.5 340.0 L528.8 340.6 L530.0 341.2 L531.2 341.5 L532.5 342.5 L533.8 343.2 L535.0 344.6 L536.2 345.5 L537.5 346.0 L541.0 346.0 L542.2 349.2 L543.5 352.2 L544.8 354.8 L546.0 357.5 L547.3 358.6 L548.7 359.2 L550.0 360.0 L551.2 358.0 L552.5 355.9 L553.8 353.8 L555.2 354.5 L556.6 355.1 L558.0 356.0 L559.5 359.5 L561.0 363.4 L562.5 367.0 L564.0 367.7 L565.5 368.5 L567.0 369.5 L570.0 363.8 L571.2 362.6 L572.4 361.5 L573.6 360.9 L574.8 359.9 L576.0 358.8 L577.2 356.8 L578.5 355.6 L579.8 354.1 L581.0 352.5 L583.8 345.0 L585.0 344.8 L586.2 344.3 L587.5 343.7 L588.8 343.6 L590.0 343.0 L591.2 344.3 L592.5 345.8 L593.8 347.5 L595.0 347.6 L596.2 348.1 L597.5 347.7 L598.8 348.0 L600.0 346.0 L601.2 344.2 L602.5 342.5 L603.8 340.5 L605.0 341.0 L606.2 342.2 L607.5 343.0 L608.8 343.8 L610.0 344.8 L611.2 345.7 L612.5 346.5 L613.8 347.9 L615.0 348.8 L616.2 352.4 L617.5 355.4 L618.8 358.8 L622.0 331.2 L625.5 330.0 L627.5 315.0 L630.0 332.5 L631.2 345.0 L633.8 342.5 L636.2 357.5 L638.8 357.5 L641.2 363.8 L642.7 365.5 L644.1 367.6 L645.5 369.5 L648.0 365.0 L650.0 315.0 L653.0 296.2 L656.2 293.0 L658.0 327.5 L661.2 337.5 L664.2 336.2 L665.8 285.0 L668.8 281.2 L672.0 287.5 L673.8 332.5 L675.0 370.0 L677.5 386.2 L680.0 375.0 L683.0 360.0 L685.5 362.5 L688.0 372.5 L691.2 373.8 L692.5 371.0 L693.8 368.2 L695.0 365.0 L696.5 363.4 L698.0 361.7 L699.5 360.5 L700.9 363.4 L702.3 366.6 L703.8 370.0 L705.0 371.9 L706.2 374.1 L707.5 375.4 L708.8 377.5 L710.0 378.7 L711.2 380.5 L712.5 382.0 L713.8 380.2 L715.0 378.0 L716.2 376.2 L717.5 372.7 L718.8 369.2 L720.0 366.2 L721.2 364.5 L722.5 362.4 L723.8 360.4 L725.0 358.8 L726.2 354.3 L727.5 349.4 L728.8 345.0 L730.0 341.9 L731.2 338.4 L732.5 335.1 L733.8 332.5 L736.2 341.2 L737.5 344.3 L738.8 347.3 L740.0 350.0 L741.2 354.6 L742.5 359.1 L743.8 363.8 L746.2 364.5 L747.5 360.6 L748.8 356.3 L750.0 352.5 L753.0 325.0 L756.2 322.5 L758.8 317.5 L760.5 336.2 L762.0 338.2 L763.5 340.6 L765.0 342.5 L766.2 344.3 L767.5 345.3 L768.8 346.5 L770.0 348.5 L771.2 350.0 L772.5 347.1 L773.8 344.3 L775.0 341.2 L776.2 340.8 L777.5 340.1 L778.8 339.7 L780.0 339.0 L781.4 336.1 L782.8 332.7 L784.2 330.0 L786.8 320.0 L788.8 280.0 L791.2 227.5 L793.8 218.8 L796.2 223.8 L798.0 237.5 L800.0 225.0 L802.5 180.0 L805.0 155.0 L807.0 180.0 L808.8 230.0 L810.8 274.0 L813.0 308.8 L814.8 302.5 L815.8 274.0 L817.0 205.0 L818.0 166.2 L821.2 166.2 L823.0 160.0 L823.8 192.5 L825.0 242.5 L826.2 280.0 L827.0 292.0 L828.5 292.5 L829.2 274.0 L830.5 257.5 L831.5 230.0 L833.0 212.5 L836.2 218.8 L838.0 242.5 L840.0 270.0 L841.2 315.0 L843.5 319.5 L845.5 287.5 L847.2 280.0 L849.2 290.0 L851.8 293.8 L853.5 312.5 L855.0 331.2 L858.0 333.8 L859.5 335.6 L861.0 337.9 L862.5 339.5 L865.5 326.2 L868.0 312.5 L871.0 287.5 L872.5 262.0 L873.0 230.0 L874.2 211.2 L876.2 225.0 L878.8 232.5 L880.5 250.0 L881.8 287.5 L883.0 317.5 L885.5 318.8 L886.8 326.2 L889.2 327.5 L892.2 331.2 L893.8 312.5 L896.8 312.0 L898.5 313.8 L900.5 309.5 L901.8 322.5 L904.2 338.8 L906.8 343.8 L908.0 344.8 L909.2 345.6 L910.5 346.2 L913.0 352.5 L915.5 365.0 L917.5 371.2 L920.0 363.8 L922.5 346.2 L925.0 341.2 L926.8 346.2 L928.5 361.2 L930.5 377.5 L931.8 387.0 L933.5 380.0 L936.8 366.2 L940.0 353.8 L941.2 361.2 L942.5 358.0 L944.2 358.8" stroke="#0a0a0a" stroke-width="1.8" fill="none" stroke-linejoin="round" stroke-linecap="butt"/>

<!-- annotation -->
<ellipse cx="927.5" cy="362.4" rx="31.9" ry="24.1" fill="#5f86ee" fill-opacity="0.22" stroke="#4666e2" stroke-width="1.15" stroke-dasharray="2.6 2.3"/>
<path d="M927.7 387.5 V479 H653" fill="none" stroke="#3a5ce0" stroke-width="1" stroke-dasharray="2.6 2.6"/>
<text class="ann1" x="740.2" y="456.2" text-anchor="middle" textLength="305.5" lengthAdjust="spacing">Equilibrium Between LTH Profit and STH Loss</text>
<text class="ann2" x="740.2" y="473.2" text-anchor="middle" textLength="174" lengthAdjust="spacing">Market Reset is Occurring</text>

<g class="axis"><text x="75" y="146.0" text-anchor="end" font-size="10.7">$105k</text><text x="75" y="260.8" text-anchor="end" font-size="10.7">$75k</text><text x="75" y="375.5" text-anchor="end" font-size="10.7">$45k</text><text x="75" y="490.3" text-anchor="end" font-size="10.7">$15k</text><text x="959.7" y="146.0" font-size="10.2">2B</text><text x="959.7" y="260.8" font-size="10.2">1B</text><text x="959.7" y="375.5" font-size="10.2">0</text><text x="959.7" y="490.3" font-size="10.2">-1B</text></g>
<g class="xaxis"><text x="78.7" y="515.1" textLength="34.6" lengthAdjust="spacing">Apr '23</text><text x="187.0" y="515.1" textLength="32.3" lengthAdjust="spacing">Jul '23</text><text x="293.5" y="515.1" textLength="34.6" lengthAdjust="spacing">Oct '23</text><text x="401.6" y="515.1" textLength="34.6" lengthAdjust="spacing">Jan '24</text><text x="508.8" y="515.1" textLength="34.6" lengthAdjust="spacing">Apr '24</text><text x="616.8" y="515.1" textLength="32.3" lengthAdjust="spacing">Jul '24</text><text x="723.1" y="515.1" textLength="34.6" lengthAdjust="spacing">Oct '24</text><text x="831.0" y="515.1" textLength="34.6" lengthAdjust="spacing">Jan '25</text></g>

<text class="foot" x="18" y="555.6" textLength="216.5" lengthAdjust="spacing">© 2025 Glassnode. All Rights Reserved.</text>
<text class="logo" x="900.5" y="556.8">glassnode</text>
</svg>
</body>
</html>
